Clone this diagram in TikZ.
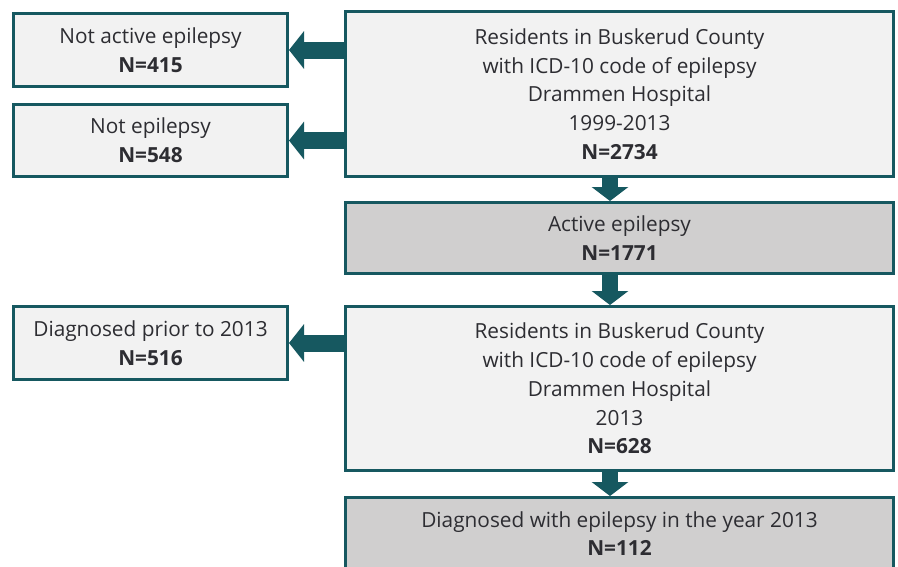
\documentclass[tikz,border=0pt]{standalone}
\usepackage{fontspec}
\setmainfont{Open Sans}
\usetikzlibrary{arrows.meta}

\definecolor{teal}{RGB}{22,88,96}
\definecolor{lightbox}{RGB}{242,242,242}
\definecolor{greybox}{RGB}{208,207,207}
\definecolor{txt}{RGB}{45,45,50}

\tikzset{
  box/.style={draw=teal, line width=3pt, fill=lightbox, text=txt, align=center,
    inner sep=0pt, font=\fontsize{20.8}{28.7}\selectfont},
  widebox/.style={box, minimum width=548pt},
  smallbox/.style={box, minimum width=274pt},
  shaded/.style={fill=greybox},
  sidearrow/.style={draw=teal, line width=17pt, -{Triangle[length=15pt,width=37pt]}},
  downarrow/.style={draw=teal, line width=16pt, -{Triangle[length=14pt,width=36pt]}}
}

\begin{document}
\begin{tikzpicture}[x=1pt,y=-1pt]
			%%%%% START %%%%%
			
			\fill[white] (0,0) rectangle (898,566);
			\clip (0,0) rectangle (898,566);
			
			\node[widebox, minimum height=165pt] (cohort) at (619.5,94) {Residents in Buskerud County\\with ICD-10 code of epilepsy\\Drammen Hospital\\1999-2013\\\textbf{N=2734}};
			\node[smallbox, minimum height=73pt] (notactive) at (150.5,50) {Not active epilepsy\\\textbf{N=415}};
			\node[smallbox, minimum height=72pt] (notepi) at (150.5,140.5) {Not epilepsy\\\textbf{N=548}};
			
			\node[widebox, shaded, minimum height=71pt] (active) at (619.5,238) {Active epilepsy\\\textbf{N=1771}};
			
			\node[widebox, minimum height=164pt] (year) at (619.5,388.5) {Residents in Buskerud County\\with ICD-10 code of epilepsy\\Drammen Hospital\\2013\\\textbf{N=628}};
			\node[smallbox, minimum height=73pt] (prior) at (150.5,343) {Diagnosed prior to 2013\\\textbf{N=516}};
			
			\node[widebox, shaded, minimum height=72pt] (new) at (619.5,533.5) {Diagnosed with epilepsy in the year 2013\\\textbf{N=112}};
			
			\coordinate (mid) at (610,0);
			
			\draw[sidearrow] (cohort.west |- notactive) -- (notactive.east);
			\draw[sidearrow] (cohort.west |- notepi) -- (notepi.east);
			\draw[sidearrow] (year.west |- prior) -- (prior.east);
			
			\draw[downarrow] (cohort.south -| mid) -- (active.north -| mid);
			\draw[downarrow] (active.south -| mid) -- (year.north -| mid);
			\draw[downarrow] (year.south -| mid) -- (new.north -| mid);
			
			%%%%% END %%%%%
\end{tikzpicture}
\end{document}
